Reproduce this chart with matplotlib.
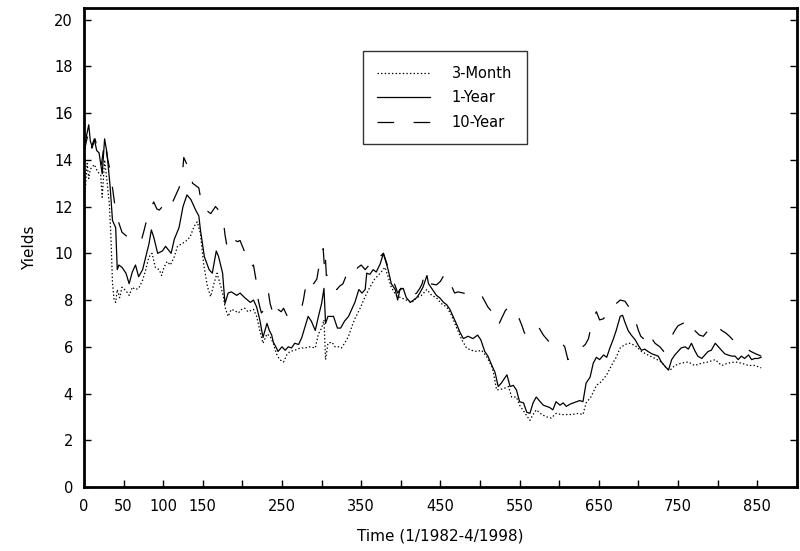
import matplotlib
matplotlib.use("Agg")
import matplotlib.pyplot as plt

# values (weeks since 1/1982, percent)
t_3m = [0, 2, 4, 6, 8, 13, 17, 21, 23, 26, 29, 32, 34, 36, 38, 40, 42, 45, 48, 53,
        57, 61, 65, 69, 74, 78, 82, 86, 90, 95, 98, 101, 105, 109, 114, 118, 123, 128, 134, 139,
        143, 147, 151, 156, 160, 164, 168, 173, 176, 178, 182, 186, 190, 195, 199, 203, 207, 214, 218, 222,
        226, 231, 235, 239, 243, 247, 252, 256, 260, 266, 273, 279, 285, 292, 296, 300, 303, 305, 308, 313,
        317, 321, 325, 329, 334, 338, 342, 348, 355, 361, 367, 374, 380, 384, 388, 394, 400, 407, 414, 420,
        426, 433, 439, 445, 451, 458, 464, 470, 477, 483, 489, 496, 502, 508, 515, 517, 521, 529, 536, 540,
        546, 550, 557, 563, 567, 571, 578, 584, 590, 596, 603, 609, 616, 624, 630, 634, 640, 647, 653, 660,
        666, 672, 677, 683, 689, 696, 704, 712, 721, 729, 735, 740, 746, 754, 763, 771, 780, 788, 797, 805,
        813, 822, 830, 839, 847, 855]
y_3m = [12.3, 12.9, 13.85, 13.2, 13.6, 13.8, 13.5, 13.35, 12.4, 14.0, 13.1, 12.1, 10.7, 8.7, 8.0, 7.9, 8.45, 8.1, 8.55, 8.4,
        8.2, 8.55, 8.45, 8.5, 8.85, 9.3, 9.85, 10.0, 9.4, 9.3, 9.05, 9.4, 9.65, 9.5, 9.85, 10.3, 10.4, 10.5, 10.7, 11.15,
        11.35, 10.85, 9.55, 8.55, 8.15, 8.7, 9.15, 8.55, 8.15, 7.7, 7.3, 7.6, 7.55, 7.45, 7.6, 7.65, 7.5, 7.6, 7.3, 6.7,
        6.15, 6.55, 6.45, 6.15, 5.7, 5.45, 5.35, 5.65, 5.8, 5.85, 5.95, 5.95, 6.0, 5.95, 6.55, 6.8, 7.15, 5.45, 6.15, 6.2,
        6.0, 6.0, 5.95, 6.15, 6.45, 6.85, 7.2, 7.6, 8.15, 8.55, 8.9, 9.15, 9.4, 9.0, 8.55, 8.2, 8.1, 8.0, 7.9, 8.1,
        8.2, 8.45, 8.2, 8.1, 7.85, 7.7, 7.35, 6.85, 6.3, 5.95, 5.85, 5.8, 5.85, 5.6, 5.15, 4.9, 4.15, 4.2, 4.3, 3.85,
        3.85, 3.5, 3.15, 2.85, 3.1, 3.3, 3.1, 3.0, 2.95, 3.15, 3.1, 3.1, 3.1, 3.15, 3.1, 3.6, 3.85, 4.35, 4.5, 4.8,
        5.2, 5.55, 5.95, 6.1, 6.15, 6.05, 5.8, 5.65, 5.5, 5.35, 5.1, 5.0, 5.2, 5.3, 5.35, 5.2, 5.3, 5.35, 5.45, 5.2,
        5.3, 5.35, 5.3, 5.2, 5.2, 5.1]

t_1y = [0, 3, 6, 8, 10, 13, 16, 19, 23, 26, 29, 33, 36, 40, 42, 44, 48, 53, 57, 61,
        65, 69, 74, 78, 82, 85, 88, 93, 99, 103, 110, 114, 120, 125, 130, 135, 141, 145, 147, 152,
        158, 162, 167, 170, 175, 178, 182, 186, 193, 197, 203, 210, 214, 218, 222, 226, 231, 234, 237, 239,
        243, 245, 250, 254, 258, 262, 266, 271, 275, 279, 283, 287, 292, 296, 300, 303, 305, 308, 315, 320,
        324, 329, 334, 338, 342, 347, 351, 355, 357, 361, 365, 369, 374, 378, 381, 384, 388, 393, 396, 399,
        403, 407, 412, 416, 420, 424, 428, 433, 435, 440, 445, 449, 454, 458, 462, 466, 470, 475, 479, 485,
        491, 497, 501, 506, 510, 515, 519, 523, 527, 534, 538, 542, 546, 550, 555, 559, 563, 567, 571, 576,
        580, 584, 588, 592, 596, 601, 605, 609, 614, 618, 622, 626, 630, 634, 639, 643, 647, 651, 656, 660,
        664, 668, 672, 677, 680, 683, 687, 691, 696, 700, 704, 708, 712, 717, 721, 725, 729, 734, 738, 742,
        746, 750, 754, 759, 763, 767, 771, 775, 780, 784, 788, 792, 797, 801, 805, 809, 813, 818, 822, 826,
        830, 834, 839, 843, 847, 851, 855]
y_1y = [14.6, 15.0, 15.5, 14.8, 14.6, 14.9, 14.4, 14.3, 13.4, 14.9, 14.3, 12.85, 11.4, 11.1, 9.3, 9.5, 9.4, 9.15, 8.7, 9.2,
        9.5, 9.0, 9.3, 9.85, 10.4, 11.0, 10.7, 10.0, 10.1, 10.3, 10.0, 10.6, 11.1, 12.0, 12.5, 12.3, 11.85, 11.6, 11.0, 9.85,
        9.3, 9.15, 10.1, 9.85, 9.15, 7.85, 8.3, 8.35, 8.2, 8.3, 8.1, 7.9, 8.0, 7.7, 7.15, 6.4, 7.0, 6.7, 6.5, 6.2,
        5.95, 5.8, 6.0, 5.85, 6.0, 5.95, 6.15, 6.1, 6.4, 6.85, 7.3, 7.1, 6.7, 7.3, 7.85, 8.5, 7.0, 7.3, 7.3, 6.8,
        6.8, 7.1, 7.3, 7.6, 7.9, 8.45, 8.3, 8.45, 9.15, 9.1, 9.3, 9.2, 9.55, 10.0, 9.65, 9.3, 8.7, 8.45, 8.0, 8.45,
        8.5, 8.1, 7.9, 8.0, 8.1, 8.3, 8.55, 9.05, 8.7, 8.45, 8.2, 8.1, 7.9, 7.8, 7.6, 7.3, 7.0, 6.6, 6.35, 6.45,
        6.35, 6.5, 6.3, 5.8, 5.6, 5.2, 4.9, 4.3, 4.45, 4.8, 4.3, 4.35, 4.15, 3.65, 3.6, 3.2, 3.15, 3.6, 3.85, 3.65,
        3.5, 3.45, 3.4, 3.3, 3.65, 3.5, 3.6, 3.45, 3.55, 3.6, 3.65, 3.7, 3.65, 4.45, 4.7, 5.3, 5.55, 5.45, 5.65, 5.55,
        5.95, 6.3, 6.7, 7.3, 7.35, 7.05, 6.7, 6.5, 6.3, 6.05, 5.85, 5.9, 5.8, 5.7, 5.65, 5.6, 5.35, 5.15, 5.0, 5.45,
        5.65, 5.8, 5.95, 6.0, 5.9, 6.15, 5.85, 5.6, 5.5, 5.65, 5.8, 5.85, 6.15, 6.0, 5.85, 5.7, 5.65, 5.6, 5.6, 5.45,
        5.6, 5.5, 5.65, 5.45, 5.5, 5.5, 5.55]

t_10y = [0, 3, 6, 10, 14, 18, 22, 26, 30, 34, 36, 38, 40, 44, 48, 55, 60, 63, 72, 76,
         80, 88, 92, 95, 99, 103, 107, 114, 120, 124, 126, 130, 135, 137, 141, 145, 147, 151, 156, 160,
         166, 170, 176, 178, 180, 184, 188, 191, 194, 197, 203, 207, 210, 214, 218, 220, 222, 224, 228, 231,
         233, 235, 238, 241, 245, 249, 252, 256, 260, 264, 268, 275, 277, 279, 283, 286, 289, 294, 296, 298,
         302, 304, 305, 306, 310, 315, 319, 323, 327, 334, 337, 340, 346, 350, 355, 360, 365, 370, 375, 378,
         382, 388, 393, 396, 400, 403, 408, 412, 416, 420, 424, 427, 430, 437, 445, 450, 456, 460, 464, 468,
         472, 479, 487, 494, 502, 510, 515, 519, 523, 527, 532, 536, 541, 546, 553, 556, 559, 563, 568, 573,
         580, 585, 590, 596, 602, 607, 611, 615, 620, 628, 633, 637, 641, 644, 647, 651, 656, 660, 666, 672,
         677, 683, 688, 693, 696, 700, 703, 708, 712, 716, 721, 727, 732, 738, 742, 746, 750, 759, 762, 765,
         771, 777, 782, 788, 792, 797, 805, 810, 815, 822, 828, 835, 842, 848, 855]
y_10y = [14.3, 14.8, 15.2, 14.5, 14.9, 14.3, 13.8, 14.8, 14.0, 13.4, 12.8, 12.3, 11.8, 11.3, 10.9, 10.7, 10.6, 10.5, 10.5, 11.0,
         11.55, 12.2, 11.9, 11.85, 12.0, 11.8, 11.85, 12.35, 12.8, 13.3, 14.1, 13.8, 13.6, 13.0, 12.9, 12.8, 12.4, 11.85, 11.8, 11.7,
         12.0, 11.85, 11.4, 10.8, 10.4, 10.7, 10.85, 10.55, 10.5, 10.55, 10.05, 9.7, 9.4, 9.5, 8.7, 8.0, 7.7, 7.45, 7.6, 8.0,
         8.3, 7.85, 7.5, 7.2, 7.6, 7.5, 7.65, 7.35, 7.3, 7.4, 7.45, 7.7, 8.0, 8.4, 8.9, 8.7, 8.65, 8.9, 9.3, 9.65,
         10.2, 9.2, 9.7, 9.05, 9.1, 9.0, 8.45, 8.6, 8.7, 9.3, 9.2, 9.15, 9.4, 9.5, 9.3, 9.5, 9.4, 9.7, 9.9, 10.0,
         9.6, 9.0, 8.6, 8.3, 8.5, 8.5, 8.2, 8.1, 8.2, 8.3, 8.5, 8.7, 9.15, 8.7, 8.65, 8.8, 9.15, 8.95, 8.6, 8.3,
         8.35, 8.3, 8.2, 8.1, 8.2, 7.7, 7.5, 7.3, 6.9, 7.2, 7.55, 7.7, 7.5, 7.5, 6.9, 6.6, 6.5, 6.6, 6.7, 6.9,
         6.5, 6.3, 6.1, 6.3, 6.2, 6.0, 5.45, 5.6, 5.85, 5.95, 6.1, 6.35, 7.0, 7.3, 7.5, 7.15, 7.2, 7.45, 7.8, 7.85,
         8.0, 7.95, 7.7, 7.3, 7.15, 6.7, 6.45, 6.3, 6.65, 6.4, 6.15, 6.0, 5.8, 6.0, 6.45, 6.7, 6.9, 7.05, 6.9, 7.05,
         6.7, 6.5, 6.45, 6.7, 6.8, 7.0, 6.7, 6.6, 6.45, 6.2, 6.0, 5.95, 5.8, 5.7, 5.6]

x_ticks = list(range(0, 901, 50))
x_labels = ["0", "50", "100", "150", "", "250", "", "350", "", "450", "",
            "550", "", "650", "", "750", "", "850", ""]
y_ticks = list(range(0, 21, 2))

plt.rcParams['font.family'] = 'DejaVu Sans'
plt.rcParams['lines.scale_dashes'] = False

fig = plt.figure(figsize=(8.0, 5.51), dpi=100)
ax = fig.add_axes([0.105, 0.1162, 0.891, 0.8693])

ax.plot(t_3m, y_3m, color='black', linewidth=0.9, linestyle=(0, (1.0, 1.6)), label='3-Month')
ax.plot(t_1y, y_1y, color='black', linewidth=0.9, linestyle='-', label='1-Year')
ax.plot(t_10y, y_10y, color='black', linewidth=0.9, linestyle=(0, (12, 14)), label='10-Year')

ax.set_xlim(0, 900)
ax.set_ylim(0, 20.5)
ax.set_xticks(x_ticks)
ax.set_xticklabels(x_labels)
ax.set_yticks(y_ticks)

ax.set_xlabel('Time (1/1982-4/1998)', fontsize=11, labelpad=10)
ax.set_ylabel('Yields', fontsize=11, labelpad=12)

for s in ax.spines.values():
    s.set_linewidth(2.0)
ax.tick_params(axis='both', direction='in', length=5, width=1.0, labelsize=10.5)
ax.tick_params(axis='x', pad=9)
ax.tick_params(axis='y', pad=8, right=True)

leg = ax.legend(loc='upper left', bbox_to_anchor=(0.391, 0.910), fontsize=10.5,
                handlelength=3.6, handletextpad=1.5, labelspacing=0.65,
                borderpad=1.0, borderaxespad=0, fancybox=False, frameon=True)
leg.get_frame().set_edgecolor('black')
leg.get_frame().set_linewidth(1.0)

fig.savefig('out.png', dpi=100)
